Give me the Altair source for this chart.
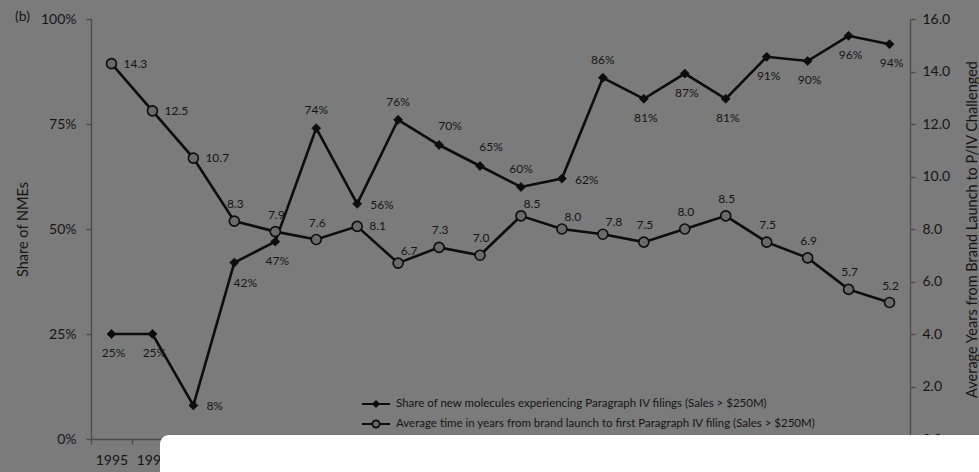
import altair as alt
import pandas as pd

# ---- data -------------------------------------------------------------
years = list(range(1995, 2015))
share_pct = [25, 25, 8, 42, 47, 74, 56, 76, 70, 65, 60, 62, 86, 81, 87, 81, 91, 90, 96, 94]
avg_years = [14.3, 12.5, 10.7, 8.3, 7.9, 7.6, 8.1, 6.7, 7.3, 7.0,
             8.5, 8.0, 7.8, 7.5, 8.0, 8.5, 7.5, 6.9, 5.7, 5.2]

# where each value label sits relative to its marker
share_label_side = ["below", "below", "right", "below_right", "below", "above", "right",
                    "above", "above_right", "above_right", "above", "right", "above",
                    "below", "below", "below", "below", "below", "below", "below"]
years_label_side = ["right", "right", "right", "above", "above", "above", "right",
                    "above_right", "above", "above", "above_right", "above_right",
                    "above_right", "above", "above", "above", "above", "above", "above", "above"]

share_name = "Share of new molecules experiencing Paragraph IV filings (Sales > $250M)"
time_name = "Average time in years from brand launch to first Paragraph IV filing (Sales > $250M)"

share_df = pd.DataFrame({
    "Year": years,
    "Share": [v / 100 for v in share_pct],
    "Label": [f"{v}%" for v in share_pct],
    "Side": share_label_side,
    "Series": share_name,
})
time_df = pd.DataFrame({
    "Year": years,
    "Years": avg_years,
    "Label": [f"{v:.1f}" for v in avg_years],
    "Side": years_label_side,
    "Series": time_name,
})

# ---- styling -----------------------------------------------------------
FONT = "Lato"
TEXT = "#151515"
AXIS = "#4a4a4a"
BG = "#7b7b7b"
LINE = "#0d0d0d"
CIRCLE_FILL = "#6a6a6a"

W, H = 819, 420

# legend glyphs: a line with a diamond, and a line broken by a circle
SHARE_SYM = "M-1,0H1M0,-0.2L0.2,0L0,0.2L-0.2,0Z"
TIME_SYM = ("M-1,0H-0.26M0.26,0H1M0.26,0A0.26,0.26,0,1,1,-0.26,0"
            "A0.26,0.26,0,1,1,0.26,0")

LEGEND_STYLE = dict(
    title=None, orient="none", padding=0, labelFont=FONT, labelFontSize=11.5,
    labelColor=TEXT, labelLimit=0, labelOffset=5, symbolSize=784,
    symbolStrokeWidth=1.8, symbolStrokeColor=LINE, legendX=270,
)

x_enc = alt.X(
    "Year:O",
    bandPosition=0.5,
    scale=alt.Scale(type="band", paddingInner=0, paddingOuter=0),
    axis=alt.Axis(title=None, labelAngle=0, tickBand="extent", labelPadding=9),
)

share_y = alt.Y(
    "Share:Q",
    scale=alt.Scale(domain=[0, 1]),
    axis=alt.Axis(format="%", values=[0, 0.25, 0.5, 0.75, 1], title="Share of NMEs",
                  titleX=-68, titleY=H / 2, titleAngle=270, titleBaseline="middle",
                  titleAlign="center", labelPadding=10),
)
time_y = alt.Y(
    "Years:Q",
    scale=alt.Scale(domain=[0, 16]),
    axis=alt.Axis(orient="right", format=".1f", values=list(range(0, 17, 2)),
                  title="Average Years from Brand Launch to P/IV Challenged",
                  titleX=62, titleY=H / 2, titleAngle=270, titleBaseline="middle",
                  titleAlign="center", labelPadding=7),
)


def label_layers(df, y_enc, offsets):
    layers = []
    for side, (dx, dy, align) in offsets.items():
        layers.append(
            alt.Chart(df)
            .transform_filter(alt.datum.Side == side)
            .mark_text(dx=dx, dy=dy, align=align, baseline="middle", font=FONT,
                       fontSize=12, color=TEXT)
            .encode(x=x_enc, y=y_enc, text="Label:N")
        )
    return layers


share_offsets = {
    "below": (2, 19, "center"),
    "above": (0, -18, "center"),
    "right": (13, 1, "left"),
    "below_right": (11, 20, "center"),
    "above_right": (11, -19, "center"),
}
time_offsets = {
    "right": (12, 0, "left"),
    "above": (1, -17, "center"),
    "above_right": (11, -12, "center"),
}

share_line = alt.Chart(share_df).mark_line(color=LINE, strokeWidth=2.6).encode(
    x=x_enc, y=share_y)
share_pts = alt.Chart(share_df).mark_point(
    shape="diamond", filled=True, size=80, opacity=1, stroke=LINE, strokeWidth=0.8
).encode(
    x=x_enc, y=share_y,
    fill=alt.Fill("Series:N", scale=alt.Scale(domain=[share_name], range=[LINE]),
                  legend=alt.Legend(legendY=370, symbolType=SHARE_SYM,
                                    symbolFillColor=LINE, **LEGEND_STYLE)),
)
share_layer = alt.layer(share_line, share_pts, *label_layers(share_df, share_y, share_offsets))

time_line = alt.Chart(time_df).mark_line(color=LINE, strokeWidth=2.6).encode(
    x=x_enc, y=time_y)
time_pts = alt.Chart(time_df).mark_point(
    shape="circle", filled=True, size=100, opacity=1, fill=CIRCLE_FILL, strokeWidth=1.6
).encode(
    x=x_enc, y=time_y,
    stroke=alt.Stroke("Series:N", scale=alt.Scale(domain=[time_name], range=[LINE]),
                      legend=alt.Legend(legendY=390, symbolType=TIME_SYM,
                                        symbolFillColor=CIRCLE_FILL, **LEGEND_STYLE)),
)
time_layer = alt.layer(time_line, time_pts, *label_layers(time_df, time_y, time_offsets))

# white panel sitting over the bottom of the figure
panel = alt.Chart(alt.Data(values=[{}])).mark_rect(
    color="white", cornerRadiusTopLeft=9
).encode(x=alt.value(69), x2=alt.value(W + 80), y=alt.value(416), y2=alt.value(H + 60))

chart = (
    alt.layer(share_layer, time_layer, panel)
    .resolve_scale(y="independent")
    .properties(
        width=W, height=H,
        autosize=alt.AutoSizeParams(type="none"),
        padding={"left": 91, "top": 19, "right": 69, "bottom": 33},
        title=alt.TitleParams("(b)", anchor="start", frame="group", dx=-76, dy=19,
                              offset=0, baseline="middle", font=FONT, fontSize=14,
                              fontWeight="normal", color=TEXT),
    )
    .configure(background=BG)
    .configure_view(stroke=None)
    .configure_axis(
        grid=False, domainColor=AXIS, domainWidth=1.3, tickColor=AXIS, tickSize=5,
        tickWidth=1.3, labelFont=FONT, labelFontSize=14, labelColor=TEXT,
        titleFont=FONT, titleFontSize=14.5, titleFontWeight="normal", titleColor=TEXT,
    )
)

chart.save("out.html", embed_options={"renderer": "svg", "actions": False})
